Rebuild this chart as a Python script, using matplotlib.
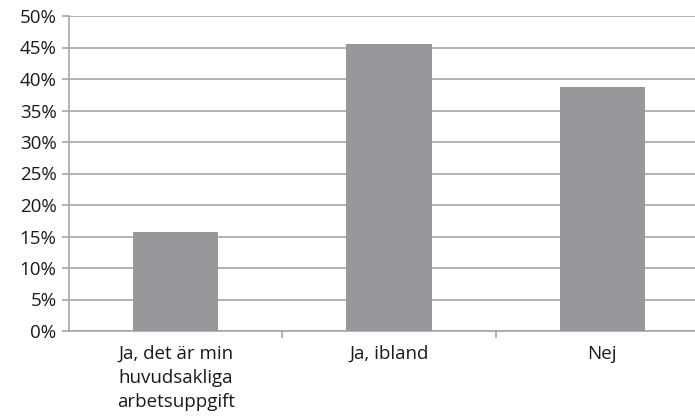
import matplotlib.pyplot as plt
from matplotlib.ticker import FixedLocator, PercentFormatter

# Data
kategorier = ['Ja, det är min\nhuvudsakliga\narbetsuppgift', 'Ja, ibland', 'Nej']
andel = [15.7, 45.6, 38.8]
y_ticks = list(range(0, 55, 5))

grid_col = '#a6a6a6'
bar_col = '#97989c'
text_col = '#1a1a1a'

plt.rcParams['font.family'] = ['Open Sans', 'DejaVu Sans']

fig = plt.figure(figsize=(6.95, 4.17), dpi=100)
ax = fig.add_axes([69 / 695, 86 / 417, 640 / 695, 315 / 417])

x = list(range(len(kategorier)))
ax.bar(x, andel, width=0.4, color=bar_col, zorder=3)

ax.set_xlim(-0.5, len(kategorier) - 0.5)
ax.set_ylim(0, 50)
ax.set_yticks(y_ticks)
ax.yaxis.set_major_formatter(PercentFormatter(decimals=0))
ax.yaxis.grid(True, color=grid_col, linewidth=1.2, zorder=0)

ax.set_xticks(x)
ax.set_xticklabels(kategorier, linespacing=1.45)
ax.xaxis.set_minor_locator(FixedLocator([i + 0.5 for i in x]))
ax.tick_params(axis='x', which='major', length=0, pad=10)
ax.tick_params(axis='x', which='minor', length=5, color=grid_col, width=1.2)
ax.tick_params(axis='y', length=5, color=grid_col, width=1.2, pad=4)
ax.tick_params(labelsize=13.5, labelcolor=text_col)

for s in ['top', 'right']:
    ax.spines[s].set_visible(False)
for s in ['left', 'bottom']:
    ax.spines[s].set_color(grid_col)
    ax.spines[s].set_linewidth(1.2)

plt.savefig('out.png', dpi=100)
